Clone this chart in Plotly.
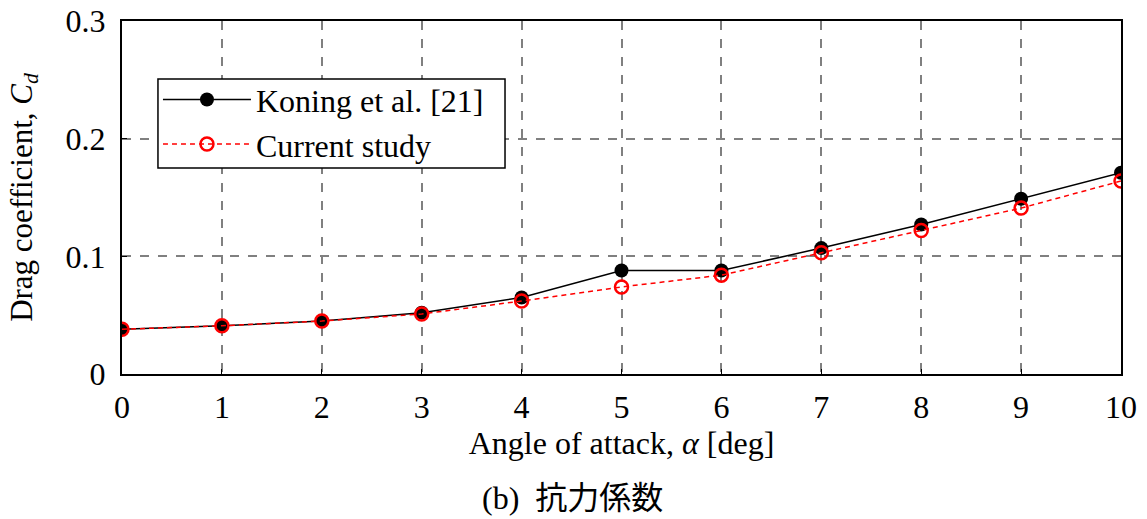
import plotly.graph_objects as go

# Angle of attack [deg]
alpha = [0, 1, 2, 3, 4, 5, 6, 7, 8, 9, 10]
# Drag coefficient, reference data (Koning et al.)
cd_koning = [0.038, 0.041, 0.045, 0.052, 0.065, 0.088, 0.088, 0.107, 0.127, 0.149, 0.171]
# Drag coefficient, present computation
cd_current = [0.038, 0.041, 0.045, 0.051, 0.062, 0.074, 0.084, 0.103, 0.122, 0.141, 0.164]

x_ticks = [0, 1, 2, 3, 4, 5, 6, 7, 8, 9, 10]
y_ticks = [0, 0.1, 0.2, 0.3]
y_tick_text = ["0", "0.1", "0.2", "0.3"]

SERIF = "Liberation Serif, Times New Roman, Noto Sans CJK JP"

fig = go.Figure()
fig.add_trace(go.Scatter(
    x=alpha, y=cd_koning, mode="lines+markers", name="Koning et al. [21]",
    line=dict(color="black", width=1.5),
    marker=dict(symbol="circle", size=14, color="black"),
))
fig.add_trace(go.Scatter(
    x=alpha, y=cd_current, mode="lines+markers", name="Current study",
    line=dict(color="red", width=1.5, dash="5px,4px"),
    marker=dict(symbol="circle-open", size=13, color="red", line=dict(width=2.5, color="red")),
))

axis_common = dict(
    showline=True, linecolor="black", linewidth=2, mirror=True,
    showgrid=True, gridcolor="#808080", gridwidth=1.5, griddash="dash",
    ticks="inside", ticklen=5, tickcolor="black", tickwidth=1,
    zeroline=False, automargin=False,
    tickfont=dict(family=SERIF, size=32, color="black"),
)

fig.update_xaxes(
    range=[0, 10], tickvals=x_ticks, ticklabelstandoff=4,
    title=dict(text="Angle of attack, <i>α</i> [deg]",
               font=dict(family=SERIF, size=32, color="black"), standoff=4),
    **axis_common,
)
fig.update_yaxes(
    range=[0, 0.3], tickvals=y_ticks, ticktext=y_tick_text, ticklabelstandoff=8,
    title=dict(text="Drag coefficient, <i>C</i><sub><i>d</i></sub>",
               font=dict(family=SERIF, size=31, color="black"), standoff=24),
    **axis_common,
)

# Legend frame (white box hiding the grid behind the legend entries)
fig.add_shape(
    type="rect", xref="paper", yref="paper",
    x0=0.036, x1=0.3834, y0=0.5836, y1=0.8357,
    line=dict(color="black", width=1.5), fillcolor="white", layer="above",
)

fig.add_annotation(
    text="(b)  抗力係数", xref="paper", yref="paper",
    x=0.451, y=-0.296, xanchor="center", yanchor="top", showarrow=False,
    font=dict(family=SERIF, size=32, color="black"),
)

fig.update_layout(
    width=1147, height=519,
    margin=dict(l=122, r=26, t=21, b=145),
    paper_bgcolor="white", plot_bgcolor="white",
    legend=dict(
        x=0.036, y=0.855, xanchor="left", yanchor="top",
        bgcolor="rgba(0,0,0,0)", borderwidth=0,
        font=dict(family=SERIF, size=32, color="black"),
        itemwidth=88, tracegroupgap=0,
    ),
    showlegend=True,
)

fig.write_html("out.html")
